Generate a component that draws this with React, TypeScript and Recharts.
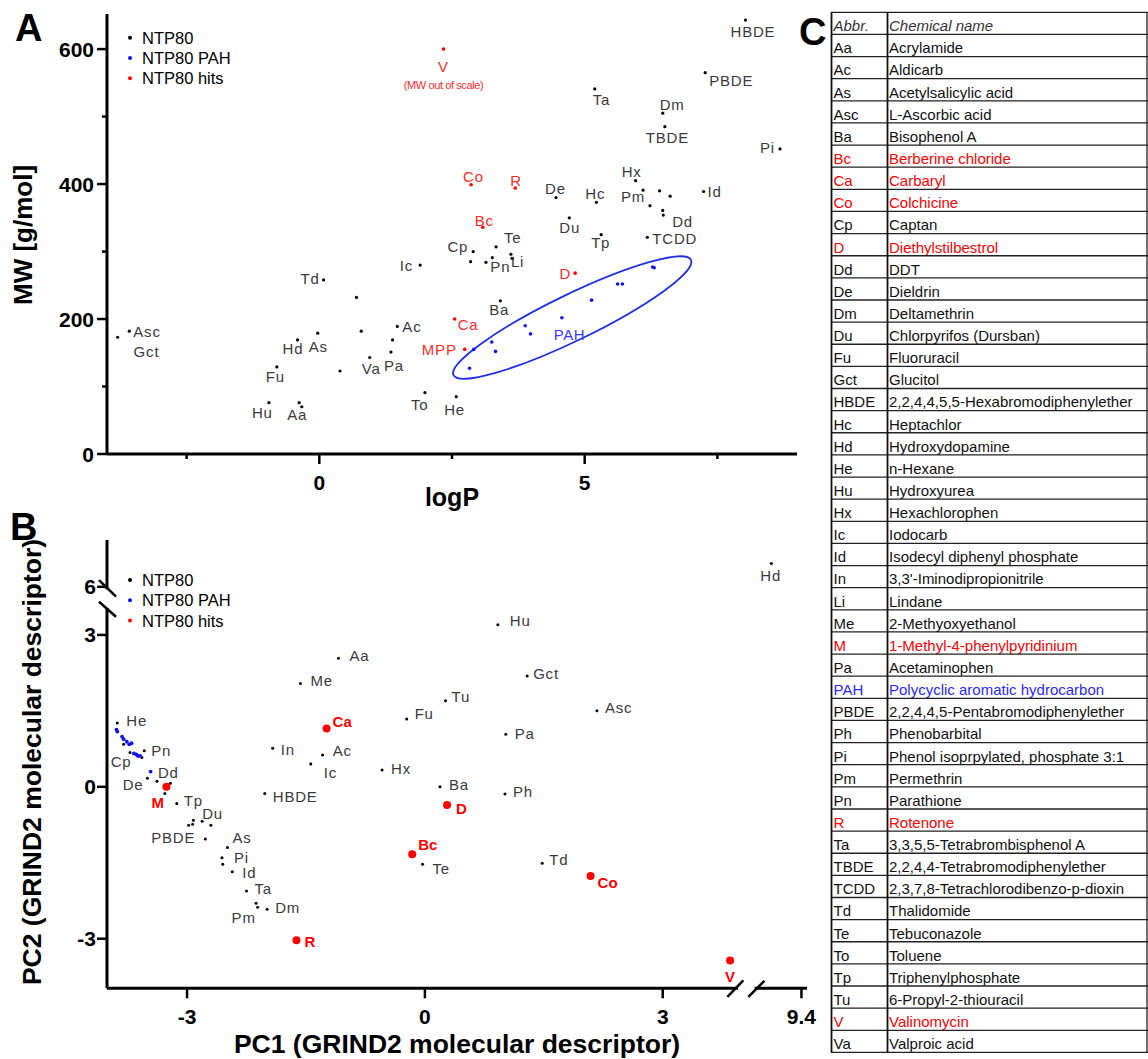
import React from 'react';
import { ScatterChart, Scatter, XAxis, YAxis, ReferenceDot, ReferenceLine } from 'recharts';

type Row = [string, number, number];
type Anchor = 'start' | 'middle' | 'end';
type LabelAt = Record<string, [number, number, Anchor?]>;

// ---- panel A: logP vs MW ----
const aNtp: Row[] = [
  ['Gct', -3.8, 173], ['Asc', -3.58, 182], ['Td', 0.08, 258], ['', 0.7, 232], ['', 0.79, 182],
  ['Ac', 1.47, 189], ['', 1.38, 169], ['Pa', 1.35, 151], ['Va', 0.95, 143], ['', 0.39, 123],
  ['As', -0.03, 179], ['Hd', -0.41, 169], ['Fu', -0.8, 129], ['Hu', -0.95, 76], ['Aa', -0.38, 76],
  ['', -0.33, 70], ['Ic', 1.9, 280], ['HBDE', 8.03, 643], ['PBDE', 7.27, 565], ['Ta', 5.19, 541],
  ['Dm', 6.47, 505], ['TBDE', 6.51, 485], ['Pi', 8.68, 452], ['De', 4.46, 380], ['Hc', 5.22, 373],
  ['Hx', 5.96, 405], ['Pm', 6.1, 391], ['', 6.23, 368], ['', 6.41, 390], ['', 6.61, 382],
  ['', 6.47, 361], ['Dd', 6.48, 354], ['Id', 7.24, 389], ['TCDD', 6.18, 321], ['Tp', 5.31, 325],
  ['Du', 4.71, 350], ['Te', 3.33, 307], ['Cp', 2.9, 300], ['', 2.85, 285], ['', 3.14, 284],
  ['Pn', 3.26, 291], ['Li', 3.61, 296], ['', 3.63, 290], ['Ba', 3.41, 227], ['To', 1.99, 91],
  ['He', 2.58, 85],
];
const aPah: Row[] = [
  ['', 2.91, 155], ['', 2.83, 127], ['', 3.25, 166], ['', 3.32, 152], ['', 3.88, 190], ['', 3.98, 178],
  ['', 4.57, 202], ['', 5.13, 228], ['', 5.62, 252], ['', 5.71, 252], ['', 6.28, 277], ['', 6.31, 276],
];
const aHits: Row[] = [
  ['V', 2.34, 600], ['Co', 2.86, 399], ['R', 3.69, 394], ['Bc', 3.08, 336], ['D', 4.82, 268],
  ['Ca', 2.55, 200], ['MPP', 2.74, 155],
];
const aXTicks = [-2.5, 0, 2.5, 5, 7.5];
const aXTickLabels = ['', '0', '', '5', ''];
const aYTicks = [0, 100, 200, 300, 400, 500, 600];
const aYTickLabels = ['0', '', '200', '', '400', '', '600'];
const pahRing = { x: 4.765, y: 202.2 };

// ---- panel B: PC1 vs PC2 (both axes broken) ----
const bNtp: Row[] = [
  ['He', -3.88, 1.26], ['Cp', -3.8, 0.84], ['', -3.72, 0.68], ['', -3.57, 0.58], ['Pn', -3.54, 0.71],
  ['De', -3.5, 0.17], ['Dd', -3.38, 0.11], ['', -3.21, 0.07], ['', -3.28, -0.13], ['Tp', -3.13, -0.33],
  ['', -2.92, -0.66], ['Du', -2.81, -0.68], ['', -2.7, -0.76], ['', -2.98, -0.76], ['', -2.93, -0.74],
  ['PBDE', -2.77, -1.03], ['As', -2.49, -1.2], ['Pi', -2.56, -1.4], ['', -2.55, -1.53], ['Id', -2.43, -1.68],
  ['Ta', -2.25, -2.06], ['', -2.13, -2.3], ['Pm', -2.11, -2.38], ['Dm', -1.99, -2.42], ['HBDE', -2.02, -0.13],
  ['In', -1.92, 0.76], ['Ic', -1.44, 0.45], ['Ac', -1.29, 0.63], ['Me', -1.57, 2.04], ['Aa', -1.09, 2.54],
  ['Hx', -0.54, 0.33], ['Fu', -0.23, 1.34], ['Hd', 9.02, 6.46], ['Hu', 0.92, 3.2], ['Gct', 1.29, 2.19],
  ['Tu', 0.26, 1.7], ['Asc', 2.17, 1.5], ['Pa', 1.02, 1.04], ['Ba', 0.19, 0.0], ['Ph', 1.01, -0.14],
  ['Te', -0.03, -1.53], ['Td', 1.48, -1.51],
];
const bPah: Row[] = [
  ['', -3.89, 1.13], ['', -3.88, 1.09], ['', -3.82, 0.99], ['', -3.8, 0.94], ['', -3.76, 0.89],
  ['', -3.73, 0.84], ['', -3.7, 0.86], ['', -3.67, 0.66], ['', -3.64, 0.64], ['', -3.62, 0.61],
  ['', -3.59, 0.61], ['', -3.46, 0.3],
];
const bHits: Row[] = [
  ['M', -3.26, 0.0], ['Ca', -1.24, 1.15], ['R', -1.62, -3.03], ['Bc', -0.16, -1.33], ['D', 0.28, -0.36],
  ['Co', 2.09, -1.76], ['V', 3.85, -3.43],
];
const bXTickValues = [-3, 0, 3, 9.4];
const bXTickLabels = ['-3', '0', '3', '9.4'];
const bYTickValues = [-3, 0, 3, 6];
const bYTickLabels = ['-3', '0', '3', '6'];

// ---- panel C: abbreviation table ----
const tableAbbr = ['Aa', 'Ac', 'As', 'Asc', 'Ba', 'Bc', 'Ca', 'Co', 'Cp', 'D', 'Dd', 'De', 'Dm', 'Du', 'Fu', 'Gct',
  'HBDE', 'Hc', 'Hd', 'He', 'Hu', 'Hx', 'Ic', 'Id', 'In', 'Li', 'Me', 'M', 'Pa', 'PAH', 'PBDE', 'Ph', 'Pi', 'Pm',
  'Pn', 'R', 'Ta', 'TBDE', 'TCDD', 'Td', 'Te', 'To', 'Tp', 'Tu', 'V', 'Va'];
const tableName = ['Acrylamide', 'Aldicarb', 'Acetylsalicylic acid', 'L-Ascorbic acid', 'Bisophenol A',
  'Berberine chloride', 'Carbaryl', 'Colchicine', 'Captan', 'Diethylstilbestrol', 'DDT', 'Dieldrin', 'Deltamethrin',
  'Chlorpyrifos (Dursban)', 'Fluoruracil', 'Glucitol', '2,2,4,4,5,5-Hexabromodiphenylether', 'Heptachlor',
  'Hydroxydopamine', 'n-Hexane', 'Hydroxyurea', 'Hexachlorophen', 'Iodocarb', 'Isodecyl diphenyl phosphate',
  "3,3'-Iminodipropionitrile", 'Lindane', '2-Methyoxyethanol', '1-Methyl-4-phenylpyridinium', 'Acetaminophen',
  'Polycyclic aromatic hydrocarbon', '2,2,4,4,5-Pentabromodiphenylether', 'Phenobarbital',
  'Phenol isoprpylated, phosphate 3:1', 'Permethrin', 'Parathione', 'Rotenone', '3,3,5,5-Tetrabrombisphenol A',
  '2,2,4,4-Tetrabromodiphenylether', '2,3,7,8-Tetrachlorodibenzo-p-dioxin', 'Thalidomide', 'Tebuconazole',
  'Toluene', 'Triphenylphosphate', '6-Propyl-2-thiouracil', 'Valinomycin', 'Valproic acid'];
const hitAbbr = ['Bc', 'Ca', 'Co', 'D', 'M', 'R', 'V'];
const legendNames = ['NTP80', 'NTP80 PAH', 'NTP80 hits'];

// label placement (px offset from the dot), kept apart from the values
const aLabelAt: LabelAt = {
  Gct: [16, 14], Asc: [4, 0], Td: [-4, -1, 'end'], Ac: [5, 0], Pa: [-7, 13], Va: [-8, 11], As: [-9, 13],
  Hd: [-15, 9], Fu: [-11, 10], Hu: [-17, 10], Aa: [-12, 12], Ic: [-7, 0, 'end'], HBDE: [-15, 11],
  PBDE: [4, 8], Ta: [-2, 11], Dm: [-3, -9], TBDE: [-19, 11], Pi: [-5, -1, 'end'], De: [-11, -9],
  Hc: [-11, -9], Hx: [-14, -9], Pm: [-22, 6], Dd: [9, 6], Id: [4, 0], TCDD: [5, 1], Tp: [-10, 8],
  Du: [-10, 10], Te: [8, -9], Cp: [-5, -5, 'end'], Pn: [-2, 9], Li: [0, 7], Ba: [-11, 9], To: [-14, 12],
  He: [-12, 13], V: [0, 17, 'middle'], Co: [-8, -8], R: [-5, -8], Bc: [-8, -7], D: [-4, 0, 'end'],
  Ca: [3, 5], MPP: [-8, 0, 'end'],
};
const bLabelAt: LabelAt = {
  He: [9, -3], Cp: [-13, 17], Pn: [7, 0], Dd: [1, -9], De: [-4, 6, 'end'], M: [-15, 16], Tp: [7, -3],
  Du: [0, -8], PBDE: [-10, -1, 'end'], As: [5, -10], Pi: [12, 0], Id: [10, 1], Ta: [8, -3], Pm: [-26, 10],
  Dm: [8, -2], R: [8, 1], HBDE: [8, 3], In: [8, 1], Ic: [13, 8], Ac: [10, -4], Ca: [6, -7], Me: [10, -3],
  Aa: [11, -3], Hx: [9, -2], Fu: [8, -5], Hd: [-11, 12], Hu: [12, -4], Gct: [6, -2], Tu: [6, -4],
  Asc: [8, -3], Pa: [9, -1], Ba: [9, -2], Ph: [8, -2], D: [9, 3], Bc: [6, -10], Te: [10, 4], Td: [7, -4],
  Co: [7, 7], V: [0, 16, 'middle'],
};

const SANS = "'Liberation Sans', Arial, Helvetica, sans-serif";
const RED = '#ff0000';
const BLUE = '#1010f0';
const LABEL = '#3a3a3a';

// axis breaks in panel B: values past the break are shifted onto the drawn scale
const brkX = (v: number) => (v > 5 ? v - 4.65 : v);
const brkY = (v: number) => (v > 5 ? v - 2.05 : v);

const toPts = (rows: Row[]) => rows.map(([id, x, y]) => ({ id, x, y }));
const toPtsB = (rows: Row[]) => rows.map(([id, x, y]) => ({ id, x: brkX(x), y: brkY(y) }));

function pointShape(fill: string, r: number, at: LabelAt, textFill: string, bold = false) {
  return (p: any) => {
    const { cx, cy, payload } = p;
    if (cx == null || cy == null) return <g />;
    const lab = payload.id ? at[payload.id] : undefined;
    return (
      <g>
        <circle cx={cx} cy={cy} r={r} fill={fill} />
        {lab && (
          <text x={cx + lab[0]} y={cy + lab[1]} textAnchor={lab[2] || 'start'} dominantBaseline="central"
            fontFamily={SANS} fontSize={15} fontWeight={bold ? 700 : 400} fill={textFill}
            letterSpacing={bold ? 0 : 0.8}>
            {payload.id}
          </text>
        )}
        {payload.id === 'V' && !bold && (
          <text x={cx} y={cy + 36} textAnchor="middle" dominantBaseline="central" fontFamily={SANS}
            fontSize={11} letterSpacing={-0.4} fill={textFill}>(MW out of scale)</text>
        )}
      </g>
    );
  };
}

function axisTick(side: 'x' | 'y', ticks: number[], labels: string[], gap: number) {
  return (p: any) => {
    const v = p.payload.value;
    const i = ticks.findIndex((t) => Math.abs(t - v) < 1e-6);
    const lab = i >= 0 ? labels[i] : '';
    const len = lab ? 10 : 5;
    const txt = { fontFamily: SANS, fontSize: 21, fontWeight: 700, fill: '#000' } as const;
    if (side === 'x') {
      const ay = p.y - 14;
      return (
        <g>
          <line x1={p.x} x2={p.x} y1={ay} y2={ay + len} stroke="#000" strokeWidth={2.5} />
          {lab && <text x={p.x} y={ay + gap} textAnchor="middle" {...txt}>{lab}</text>}
        </g>
      );
    }
    const ax = p.x + 14;
    return (
      <g>
        <line x1={ax - len} x2={ax} y1={p.y} y2={p.y} stroke="#000" strokeWidth={2.5} />
        {lab && <text x={ax - gap} y={p.y + 7.5} textAnchor="end" {...txt}>{lab}</text>}
      </g>
    );
  };
}

function ChartA() {
  return (
    <ScatterChart width={810} height={500} margin={{ top: 14, right: 13, bottom: 0, left: 0 }}>
      <XAxis type="number" dataKey="x" domain={[-4, 9]} ticks={aXTicks} interval={0} height={46}
        tickSize={10} tickMargin={4} tickLine={false} axisLine={{ stroke: '#000', strokeWidth: 3 }}
        tick={axisTick('x', aXTicks, aXTickLabels, 35.5)} />
      <YAxis type="number" dataKey="y" domain={[0, 652]} ticks={aYTicks} interval={0} width={107}
        tickSize={10} tickMargin={4} tickLine={false} axisLine={{ stroke: '#000', strokeWidth: 3 }}
        tick={axisTick('y', aYTicks, aYTickLabels, 13)} />
      <ReferenceDot x={pahRing.x} y={pahRing.y} ifOverflow="visible"
        shape={(p: any) => (
          <g>
            <ellipse cx={p.cx} cy={p.cy} rx={132} ry={23} transform={`rotate(-25.9 ${p.cx} ${p.cy})`}
              fill="none" stroke="#2230e0" strokeWidth={1.8} />
            <text x={p.cx - 18.5} y={p.cy + 16.8} dominantBaseline="central" fontFamily={SANS} fontSize={15}
              letterSpacing={0.6} fill="#3a3aff">PAH</text>
          </g>
        )} />
      <Scatter data={toPts(aNtp)} isAnimationActive={false} shape={pointShape('#000', 1.6, aLabelAt, LABEL)} />
      <Scatter data={toPts(aPah)} isAnimationActive={false} shape={pointShape(BLUE, 1.8, aLabelAt, BLUE)} />
      <Scatter data={toPts(aHits)} isAnimationActive={false} shape={pointShape(RED, 1.8, aLabelAt, '#ff2a2a')} />
    </ScatterChart>
  );
}

function ChartB() {
  const xT = bXTickValues.map(brkX);
  const yT = bYTickValues.map(brkY);
  const ax = { stroke: '#000', strokeWidth: 3, ifOverflow: 'visible' as const };
  return (
    <ScatterChart width={820} height={559} margin={{ top: 40, right: 13, bottom: 0, left: 0 }}>
      <XAxis type="number" dataKey="x" domain={[-4.01, 4.82]} ticks={xT} interval={0} height={70.7}
        tickSize={10} tickMargin={4} tickLine={false} axisLine={false}
        tick={axisTick('x', xT, bXTickLabels, 36)} />
      <YAxis type="number" dataKey="y" domain={[-3.98, 4.875]} ticks={yT} interval={0} width={107}
        tickSize={10} tickMargin={4} tickLine={false} axisLine={false}
        tick={axisTick('y', yT, bYTickLabels, 11)} />
      <ReferenceLine segment={[{ x: -4.01, y: -3.98 }, { x: 3.95, y: -3.98 }]} {...ax} />
      <ReferenceLine segment={[{ x: 4.16, y: -3.98 }, { x: 4.82, y: -3.98 }]} {...ax} />
      <ReferenceLine segment={[{ x: -4.01, y: -3.98 }, { x: -4.01, y: 3.53 }]} {...ax} />
      <ReferenceLine segment={[{ x: -4.01, y: 3.9 }, { x: -4.01, y: 4.875 }]} {...ax} />
      <ReferenceDot x={-4.01} y={3.715} ifOverflow="visible"
        shape={(p: any) => (
          <g stroke="#000" strokeWidth={2.5}>
            <line x1={p.cx - 8} y1={p.cy - 18.5} x2={p.cx + 9} y2={p.cy - 2} />
            <line x1={p.cx - 8} y1={p.cy + 3} x2={p.cx + 9} y2={p.cy + 18} />
          </g>
        )} />
      <ReferenceDot x={4.055} y={-3.98} ifOverflow="visible"
        shape={(p: any) => (
          <g stroke="#000" strokeWidth={2.5}>
            <line x1={p.cx - 19} y1={p.cy + 8.5} x2={p.cx - 3} y2={p.cy - 8} />
            <line x1={p.cx + 2} y1={p.cy + 8.5} x2={p.cx + 18} y2={p.cy - 7.5} />
          </g>
        )} />
      <Scatter data={toPtsB(bNtp)} isAnimationActive={false} shape={pointShape('#000', 1.5, bLabelAt, LABEL)} />
      <Scatter data={toPtsB(bPah)} isAnimationActive={false} shape={pointShape(BLUE, 1.9, bLabelAt, BLUE)} />
      <Scatter data={toPtsB(bHits)} isAnimationActive={false} shape={pointShape(RED, 4, bLabelAt, RED, true)} />
    </ScatterChart>
  );
}

function Legend({ top }: { top: number }) {
  const colors = ['#000', BLUE, RED];
  return (
    <g>
      {legendNames.map((n, i) => (
        <g key={n}>
          <circle cx={130} cy={top + i * 20.3} r={2} fill={colors[i]} />
          <text x={142} y={top + i * 20.3 + 6} fontFamily={SANS} fontSize={16.5} fill="#000">{n}</text>
        </g>
      ))}
    </g>
  );
}

function Table() {
  const top = 12.3;
  const h = 22.13;
  const rows = [['Abbr.', 'Chemical name'], ...tableAbbr.map((a, i) => [a, tableName[i]])];
  const bottom = top + rows.length * h;
  return (
    <g fontFamily={SANS} fontSize={15}>
      {rows.map((r, i) => {
        const color = i === 0 ? '#333' : r[0] === 'PAH' ? '#2a2aff' : hitAbbr.includes(r[0]) ? RED : '#111';
        const y = top + (i + 1) * h - 3.2;
        return (
          <g key={i} fill={color} fontStyle={i === 0 ? 'italic' : 'normal'}>
            <text x={833.5} y={y}>{r[0]}</text>
            <text x={889} y={y}>{r[1]}</text>
          </g>
        );
      })}
      {rows.map((_, i) => (
        <line key={'h' + i} x1={831} x2={1148} y1={top + i * h} y2={top + i * h} stroke="#222" strokeWidth={1.3} />
      ))}
      <line x1={831} x2={1148} y1={bottom} y2={bottom} stroke="#222" strokeWidth={1.3} />
      <line x1={831.5} x2={831.5} y1={top} y2={bottom} stroke="#111" strokeWidth={1.8} />
      <line x1={887.5} x2={887.5} y1={top} y2={bottom} stroke="#111" strokeWidth={1.8} />
      <line x1={1147} x2={1147} y1={top} y2={bottom} stroke="#222" strokeWidth={1.3} />
    </g>
  );
}

export default function App() {
  const title = { fontFamily: SANS, fontWeight: 700, fill: '#000' } as const;
  return (
    <div style={{ position: 'absolute', left: 0, top: 0, width: 1148, height: 1059, background: '#fff', overflow: 'hidden' }}>
      <div style={{ position: 'absolute', left: 0, top: 0 }}>
        <ChartA />
      </div>
      <div style={{ position: 'absolute', left: 0, top: 500 }}>
        <ChartB />
      </div>
      <svg width={1148} height={1059} style={{ position: 'absolute', left: 0, top: 0, pointerEvents: 'none' }}>
        <text x={15} y={40.7} fontSize={38} {...title}>A</text>
        <text x={10} y={540} fontSize={38} {...title}>B</text>
        <text x={799} y={45} fontSize={38} {...title}>C</text>
        <text x={23} y={235} fontSize={26} textAnchor="middle" dominantBaseline="central" transform="rotate(-90 23 235)" {...title}>MW [g/mol]</text>
        <text x={452} y={497} fontSize={25} textAnchor="middle" dominantBaseline="central" {...title}>logP</text>
        <text x={32} y={762} fontSize={26.5} textAnchor="middle" dominantBaseline="central" transform="rotate(-90 32 762)" {...title}>PC2 (GRIND2 molecular descriptor)</text>
        <text x={457} y={1052.5} fontSize={26.5} textAnchor="middle" {...title}>PC1 (GRIND2 molecular descriptor)</text>
        <Legend top={37.7} />
        <Legend top={580} />
        <Table />
      </svg>
    </div>
  );
}
